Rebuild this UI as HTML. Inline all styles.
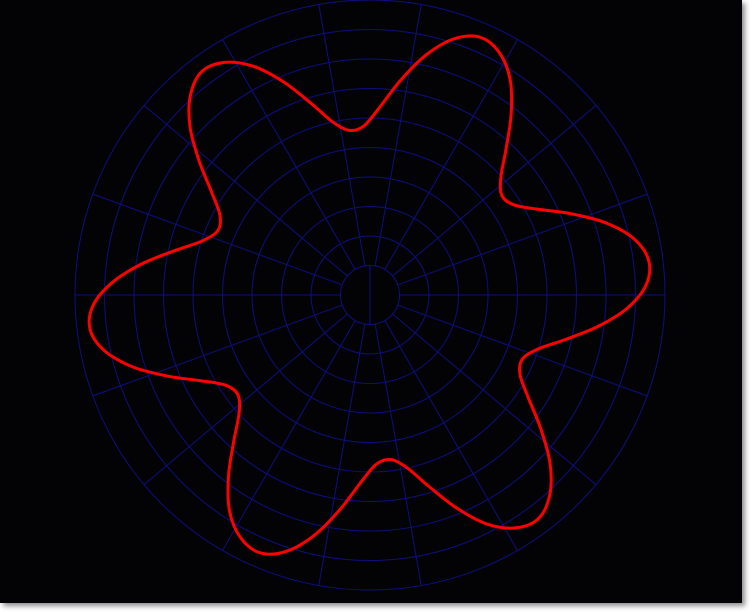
<!DOCTYPE html>
<html><head><meta charset="utf-8"><style>
html,body{margin:0;padding:0;background:#fff;width:752px;height:612px;overflow:hidden}
#frame{position:absolute;left:0;top:0;width:742px;height:603px;background:#030306;box-shadow:3px 3px 5px rgba(0,0,0,0.45)}
svg{position:absolute;left:0;top:0}
</style></head><body>
<div id="frame"></div>
<svg id="chart" width="752" height="612"></svg>
<script>
const ringValues = [1,2,3,4,5,6,7,8,9,10];
const spokeAngles = [0,20,40,60,80,100,120,140,160,180,200,220,240,260,280,300,320,340];
const seriesAngles = [];
for (let i = 0; i < 72; i++) seriesAngles.push(i * 5 + 2);
const seriesRadius = [
 9.36,9.52,9.15,8.36,7.35,6.40,5.76,5.60,5.97,6.76,7.77,8.72,
 9.32,9.50,9.12,8.33,7.33,6.38,5.74,5.62,5.98,6.78,7.78,8.70,
 9.30,9.48,9.10,8.34,7.34,6.40,5.76,5.60,5.96,6.75,7.76,8.71,
 9.38,9.56,9.18,8.38,7.36,6.41,5.77,5.61,5.97,6.77,7.79,8.74,
 9.33,9.50,9.13,8.35,7.35,6.39,5.75,5.62,5.98,6.77,7.77,8.71,
 9.31,9.49,9.11,8.34,7.34,6.40,5.76,5.60,5.96,6.76,7.77,8.72
];
const NS='http://www.w3.org/2000/svg';
const svg=document.getElementById('chart');
const cx=370, cy=295, unit=29.5, rMax=10;
function rScale(v){return v*unit;}
function pt(angDeg,v){const a=angDeg*Math.PI/180;return [cx+rScale(v)*Math.cos(a), cy-rScale(v)*Math.sin(a)];}
const grid=document.createElementNS(NS,'g');


svg.appendChild(grid);
ringValues.forEach(v=>{
  const c=document.createElementNS(NS,'circle');
  
  
  c.setAttribute('cx',cx);c.setAttribute('cy',cy);c.setAttribute('r',rScale(v));
  c.setAttribute('fill','none');c.setAttribute('stroke','#0e0e80');c.setAttribute('stroke-width','1');
  grid.appendChild(c);
});
spokeAngles.forEach(a=>{
  const p1=pt(a,ringValues[0]),p2=pt(a,rMax);
  const l=document.createElementNS(NS,'line');
  
  
  l.setAttribute('x1',p1[0]);l.setAttribute('y1',p1[1]);l.setAttribute('x2',p2[0]);l.setAttribute('y2',p2[1]);
  l.setAttribute('stroke','#0e0e80');l.setAttribute('stroke-width','1');
  grid.appendChild(l);
});
const vl=document.createElementNS(NS,'line');


vl.setAttribute('x1',cx);vl.setAttribute('x2',cx);vl.setAttribute('y1',cy-rScale(1));vl.setAttribute('y2',cy+rScale(1));
vl.setAttribute('stroke','#0e0e80');vl.setAttribute('stroke-width','1');
grid.appendChild(vl);
const pts=seriesAngles.map((a,i)=>pt(a,seriesRadius[i]));
const n=pts.length;
let d='M'+pts[0][0].toFixed(2)+','+pts[0][1].toFixed(2);
for(let i=0;i<n;i++){
  const p0=pts[(i-1+n)%n],p1=pts[i],p2=pts[(i+1)%n],p3=pts[(i+2)%n];
  const c1=[p1[0]+(p2[0]-p0[0])/6,p1[1]+(p2[1]-p0[1])/6];
  const c2=[p2[0]-(p3[0]-p1[0])/6,p2[1]-(p3[1]-p1[1])/6];
  d+=' C'+c1[0].toFixed(2)+','+c1[1].toFixed(2)+' '+c2[0].toFixed(2)+','+c2[1].toFixed(2)+' '+p2[0].toFixed(2)+','+p2[1].toFixed(2);
}
d+='Z';
const path=document.createElementNS(NS,'path');


path.setAttribute('d',d);path.setAttribute('fill','none');
path.setAttribute('stroke','#ff0000');path.setAttribute('stroke-width','3');
svg.appendChild(path);
</script>
</body></html>
